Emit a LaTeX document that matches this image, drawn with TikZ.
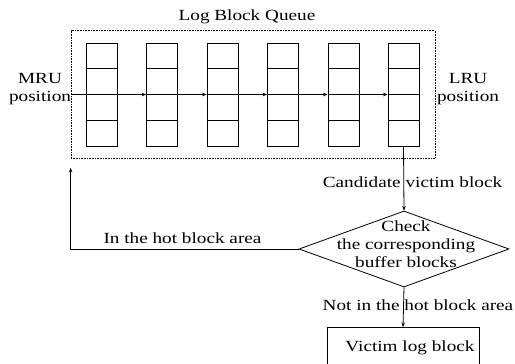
\documentclass[tikz,border=0pt]{standalone}
\usepackage{fontspec}
\setmainfont{Liberation Serif}[FakeStretch=1.24]
\usetikzlibrary{shapes.geometric,arrows.meta}
\begin{document}
\begin{tikzpicture}[x=1pt,y=-1pt,line width=0.8pt,
  every node/.style={font=\fontsize{15.5}{18}\selectfont},
  txt/.style={inner sep=0pt,align=center},
  arr/.style={-{Stealth[length=4.5pt,width=3.5pt]}},
  queuebox/.style={draw,dash pattern=on 0.8pt off 0.8pt,line width=0.7pt,
    minimum width=364pt,minimum height=128pt,inner sep=0pt},
  col/.style={draw,minimum width=31pt,minimum height=103pt,inner sep=0pt,
    path picture={
      \foreach \k in {1,2,3}
        \draw ([yshift=-\k*25.75pt]path picture bounding box.north west)
           -- ([yshift=-\k*25.75pt]path picture bounding box.north east);}},
  decision/.style={diamond,draw,minimum width=210pt,minimum height=76pt,inner sep=0pt},
  result/.style={draw,minimum width=152pt,minimum height=40pt,inner sep=3pt}]
\useasboundingbox (0,0) rectangle (515,364);

% queue of log blocks
\node[txt] (title) at (247,17) {Log Block Queue};
\node[queuebox] (queue) at (253,94.5) {};
\foreach \i/\x in {1/101.5,2/162,3/222.5,4/283,5/343.5,6/403.5}
  \node[col] (c\i) at (\x,94.5) {};
\draw (queue.west) -- (c1.west);
\foreach \i/\j in {1/2,2/3,3/4,4/5,5/6}
  \draw[arr] (c\i.east) -- (c\j.west);
\node[txt] (mru) at (40,89) {MRU\\position};
\node[txt] (lru) at (468,89) {LRU\\position};

% decision and outcome
\node[decision] (chk) at (404,249) {};
\node[txt] (chktext) at (406,244) {Check\\the corresponding\\buffer blocks};
\node[result] (vic) at (403,347.5) {\hspace*{14pt}Victim log block};

% connectors and their labels
\node[txt] (lcand) at (412.5,182.5) {Candidate victim block};
\draw[arr] (c6.south) -- (chk.north);
\node[txt] (lnot) at (418,305.5) {Not in the hot block area};
\draw[arr] (chk.south) -- (vic.north);
\node[txt] (lhot) at (182.5,238.5) {In the hot block area};
\coordinate (back) at ([yshift=-9pt]queue.south west);
\draw[arr] (chk.west) -| (back);
\end{tikzpicture}
\end{document}
